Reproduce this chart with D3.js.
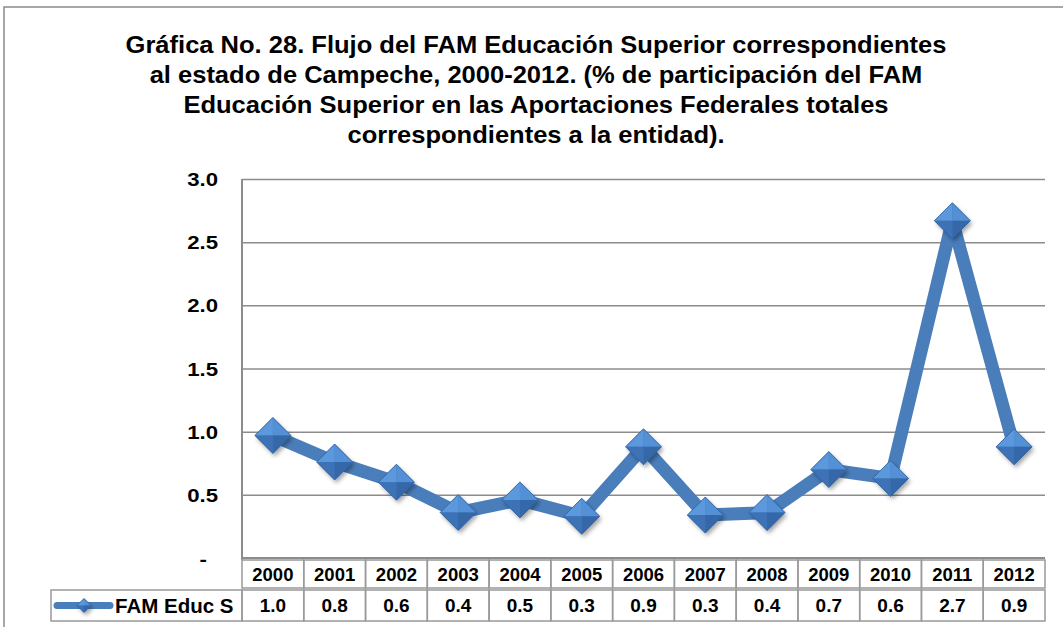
<!DOCTYPE html>
<html>
<head>
<meta charset="utf-8">
<script src="https://cdn.jsdelivr.net/npm/d3@7"></script>
<style>
  html, body { margin: 0; padding: 0; background: #fff; }
  svg { display: block; font-family: "Liberation Sans", Arial, sans-serif; }
</style>
</head>
<body>
<svg id="chart" width="1063" height="627"></svg>
<script>
// Participation of FAM Educación Superior in total federal contributions, Campeche
const years = ["2000","2001","2002","2003","2004","2005","2006","2007","2008","2009","2010","2011","2012"];
const famEducS = [0.97, 0.76, 0.60, 0.36, 0.46, 0.33, 0.88, 0.34, 0.36, 0.70, 0.63, 2.67, 0.88];
const yTicks = [0, 0.5, 1.0, 1.5, 2.0, 2.5, 3.0];
const seriesName = "FAM Educ S";
const titleLines = [
  "Gráfica No. 28. Flujo del FAM Educación Superior correspondientes",
  "al estado de Campeche, 2000-2012. (% de participación del FAM",
  "Educación Superior en las Aportaciones Federales totales",
  "correspondientes a la entidad)."
];

const svg = d3.select("#chart");
const W = 1063, H = 627;
const plot = { left: 242, right: 1045, top: 179, bottom: 558 };
const gridColor = "#8c8c8c";
const lineColor = "#4A7EBB";

const defs = svg.append("defs");
const shadow = defs.append("filter").attr("id", "shadow")
  .attr("x", "-50%").attr("y", "-50%").attr("width", "200%").attr("height", "200%");
shadow.append("feDropShadow").attr("dx", 2).attr("dy", 3).attr("stdDeviation", 2)
  .attr("flood-color", "#000").attr("flood-opacity", 0.35);

// outer chart frame
svg.append("path")
  .attr("d", `M4,${H + 5} L4,7 L${W + 5},7`)
  .attr("fill", "none").attr("stroke", "#8a8a8a").attr("stroke-width", 1.5);

// title (slightly widened lettering)
const titleStretch = 1.11;
titleLines.forEach((t, i) => {
  svg.append("text")
    .attr("transform", `translate(536,${53 + i * 30}) scale(${titleStretch},1)`)
    .attr("text-anchor", "middle")
    .attr("font-size", 23).attr("font-weight", "bold").attr("fill", "#000")
    .text(t);
});

const x = d3.scaleBand().domain(years).range([plot.left, plot.right]);
const y = d3.scaleLinear().domain([0, 3]).range([plot.bottom, plot.top]);

// horizontal gridlines
svg.append("g")
  .attr("transform", `translate(${plot.left},0)`)
  .call(d3.axisLeft(y).tickValues(yTicks.filter(v => v > 0))
    .tickSize(-(plot.right - plot.left)).tickFormat(""))
  .call(g => g.select(".domain").remove())
  .call(g => g.selectAll(".tick line").attr("stroke", gridColor).attr("stroke-width", 1.5));

// y tick labels
const yAxis = svg.append("g")
  .attr("transform", `translate(${plot.left},0)`)
  .call(d3.axisLeft(y).tickValues(yTicks).tickSize(0)
    .tickFormat(d => d === 0 ? "-" : d3.format(".1f")(d)));
yAxis.select(".domain").remove();
yAxis.selectAll(".tick text")
  .attr("x", 0)
  .attr("transform", d => d === 0 ? "translate(-35,1) scale(1.2,1)" : "translate(-24,0) scale(1.2,1)")
  .attr("font-family", "Liberation Sans, Arial, sans-serif")
  .attr("font-size", 18.5).attr("font-weight", "bold").attr("fill", "#000")
  .attr("dy", "0.36em");

// axis lines
svg.append("line")
  .attr("x1", plot.left).attr("x2", plot.right)
  .attr("y1", plot.bottom).attr("y2", plot.bottom)
  .attr("stroke", gridColor).attr("stroke-width", 2);
svg.append("line")
  .attr("x1", plot.left).attr("x2", plot.left)
  .attr("y1", plot.top).attr("y2", 560)
  .attr("stroke", gridColor).attr("stroke-width", 2);

// series line
const cx = d => x(d) + x.bandwidth() / 2;
const line = d3.line().x((d, i) => cx(years[i])).y(d => y(d));
svg.append("path")
  .datum(famEducS)
  .attr("d", line)
  .attr("fill", "none").attr("stroke", lineColor)
  .attr("stroke-width", 13).attr("stroke-linejoin", "round");

// bevelled diamond marker
function diamond(g, s) {
  const faces = [
    { p: [[0, -s], [-s, 0], [0, 0]], c: "#5C98DC" },
    { p: [[0, -s], [s, 0], [0, 0]], c: "#5390D6" },
    { p: [[-s, 0], [0, s], [0, 0]], c: "#3D73B6" },
    { p: [[s, 0], [0, s], [0, 0]], c: "#3468A8" }
  ];
  g.append("path")
    .attr("d", `M0,${-s}L${s},0L0,${s}L${-s},0Z`)
    .attr("fill", "#4479BB").attr("filter", "url(#shadow)");
  faces.forEach(f => {
    g.append("path").attr("d", "M" + f.p.map(q => q.join(",")).join("L") + "Z")
      .attr("fill", f.c);
  });
  g.append("path")
    .attr("d", `M0,${-s}L${s},0L0,${s}L${-s},0Z`)
    .attr("fill", "none").attr("stroke", "#2F5F9C").attr("stroke-width", 0.8);
}

svg.append("g").selectAll("g.marker")
  .data(famEducS)
  .join("g").attr("class", "marker")
  .attr("transform", (d, i) => `translate(${cx(years[i])},${y(d)})`)
  .each(function () { diamond(d3.select(this), 18); });

// data table
const cellStroke = "#999";
const fmt = d3.format(".1f");
const hdr = { top: 560, bottom: 588 };
const val = { top: 590, bottom: 621 };
const legendLeft = 51;

const table = svg.append("g");
years.forEach((yr, i) => {
  table.append("rect")
    .attr("x", x(yr)).attr("y", hdr.top)
    .attr("width", x.bandwidth()).attr("height", hdr.bottom - hdr.top)
    .attr("fill", "none").attr("stroke", cellStroke).attr("stroke-width", 1.5);
  table.append("rect")
    .attr("x", x(yr)).attr("y", val.top)
    .attr("width", x.bandwidth()).attr("height", val.bottom - val.top)
    .attr("fill", "none").attr("stroke", cellStroke).attr("stroke-width", 1.5);
  table.append("text")
    .attr("x", cx(yr)).attr("y", (hdr.top + hdr.bottom) / 2).attr("dy", "0.36em")
    .attr("text-anchor", "middle").attr("font-size", 18.5).attr("font-weight", "bold")
    .text(yr);
  table.append("text")
    .attr("x", cx(yr)).attr("y", (val.top + val.bottom) / 2).attr("dy", "0.36em")
    .attr("text-anchor", "middle").attr("font-size", 19).attr("font-weight", "bold")
    .text(fmt(famEducS[i]));
});

// legend cell
table.append("rect")
  .attr("x", legendLeft).attr("y", val.top)
  .attr("width", plot.left - legendLeft).attr("height", val.bottom - val.top)
  .attr("fill", "none").attr("stroke", cellStroke).attr("stroke-width", 1.5);
const keyY = (val.top + val.bottom) / 2;
table.append("line")
  .attr("x1", 57).attr("x2", 110).attr("y1", keyY).attr("y2", keyY)
  .attr("stroke", lineColor).attr("stroke-width", 7).attr("stroke-linecap", "round");
const key = table.append("g").attr("transform", `translate(84,${keyY})`);
diamond(key, 7);
table.append("text")
  .attr("x", 115).attr("y", keyY).attr("dy", "0.36em")
  .attr("font-size", 20.5).attr("font-weight", "bold")
  .text(seriesName);
</script>
</body>
</html>
